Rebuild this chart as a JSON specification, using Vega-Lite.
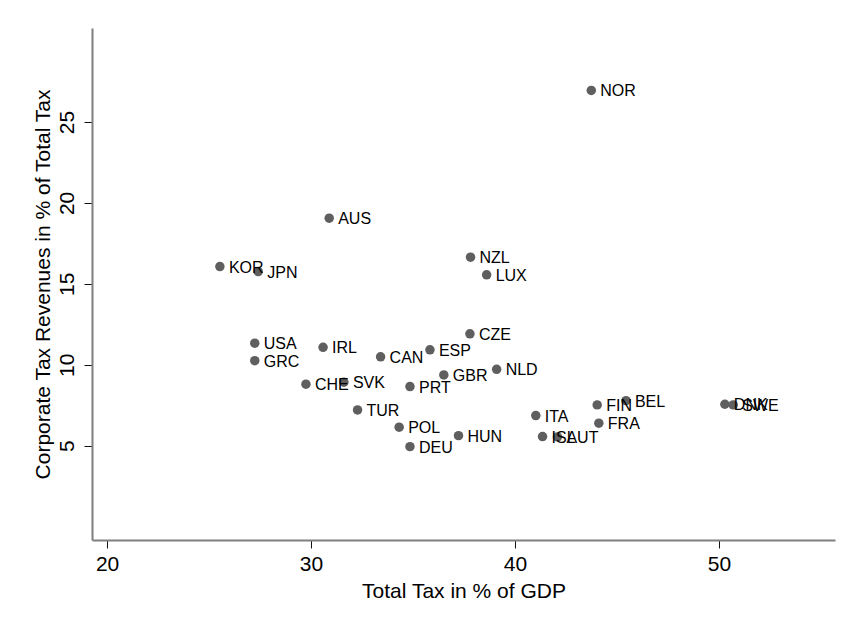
{
  "$schema": "https://vega.github.io/schema/vega-lite/v6.json",
  "autosize": {"type": "none"},
  "padding": {"left": 92, "top": 28, "right": 11, "bottom": 81},
  "width": 743,
  "height": 512,
  "background": "white",
  "config": {
    "view": {"stroke": null},
    "font": "Liberation Sans",
    "axis": {
      "grid": false,
      "domainColor": "#7f7f7f",
      "domainWidth": 2,
      "tickColor": "#111111",
      "tickWidth": 1,
      "tickSize": 8,
      "labelFont": "Liberation Sans",
      "labelFontSize": 21,
      "labelColor": "#000000",
      "titleFont": "Liberation Sans",
      "titleFontSize": 21,
      "titleFontWeight": "normal",
      "titleColor": "#000000"
    }
  },
  "data": {
    "values": [
      {"country": "NOR", "total": 43.74, "corp": 26.95},
      {"country": "AUS", "total": 30.89, "corp": 19.06},
      {"country": "KOR", "total": 25.53, "corp": 16.07},
      {"country": "JPN", "total": 27.41, "corp": 15.76},
      {"country": "NZL", "total": 37.82, "corp": 16.65},
      {"country": "LUX", "total": 38.61, "corp": 15.56},
      {"country": "USA", "total": 27.24, "corp": 11.33},
      {"country": "IRL", "total": 30.59, "corp": 11.08},
      {"country": "GRC", "total": 27.24, "corp": 10.25},
      {"country": "CAN", "total": 33.41, "corp": 10.49},
      {"country": "ESP", "total": 35.83, "corp": 10.92},
      {"country": "CZE", "total": 37.79, "corp": 11.91},
      {"country": "CHE", "total": 29.75, "corp": 8.80},
      {"country": "SVK", "total": 31.61, "corp": 8.92},
      {"country": "PRT", "total": 34.85, "corp": 8.65},
      {"country": "GBR", "total": 36.51, "corp": 9.37},
      {"country": "NLD", "total": 39.10, "corp": 9.72},
      {"country": "TUR", "total": 32.28, "corp": 7.21},
      {"country": "POL", "total": 34.32, "corp": 6.14},
      {"country": "HUN", "total": 37.23, "corp": 5.62},
      {"country": "DEU", "total": 34.85, "corp": 4.94},
      {"country": "ITA", "total": 41.02, "corp": 6.86},
      {"country": "ISL", "total": 41.35, "corp": 5.56},
      {"country": "AUT", "total": 42.08, "corp": 5.54},
      {"country": "FIN", "total": 44.03, "corp": 7.52},
      {"country": "BEL", "total": 45.44, "corp": 7.78},
      {"country": "FRA", "total": 44.11, "corp": 6.39},
      {"country": "DNK", "total": 50.29, "corp": 7.56},
      {"country": "SWE", "total": 50.70, "corp": 7.52}
    ]
  },
  "encoding": {
    "x": {
      "field": "total",
      "type": "quantitative",
      "title": "Total Tax in % of GDP",
      "scale": {"domain": [19.26, 55.69], "nice": false, "zero": false},
      "axis": {"values": [20, 30, 40, 50], "labelPadding": 5, "titlePadding": 6}
    },
    "y": {
      "field": "corp",
      "type": "quantitative",
      "title": "Corporate Tax Revenues in % of Total Tax",
      "scale": {"domain": [-0.83, 30.81], "nice": false, "zero": false},
      "axis": {"values": [5, 10, 15, 20, 25], "labelAngle": -90, "labelAlign": "center", "labelBaseline": "bottom", "labelPadding": 7, "titlePadding": 3}
    }
  },
  "layer": [
    {
      "mark": {"type": "circle", "size": 90, "color": "#5f5f5f", "opacity": 1}
    },
    {
      "mark": {"type": "text", "align": "left", "baseline": "middle", "dx": 9, "dy": 1, "fontSize": 16, "color": "#000000", "font": "Liberation Sans"},
      "encoding": {"text": {"field": "country"}}
    }
  ]
}
